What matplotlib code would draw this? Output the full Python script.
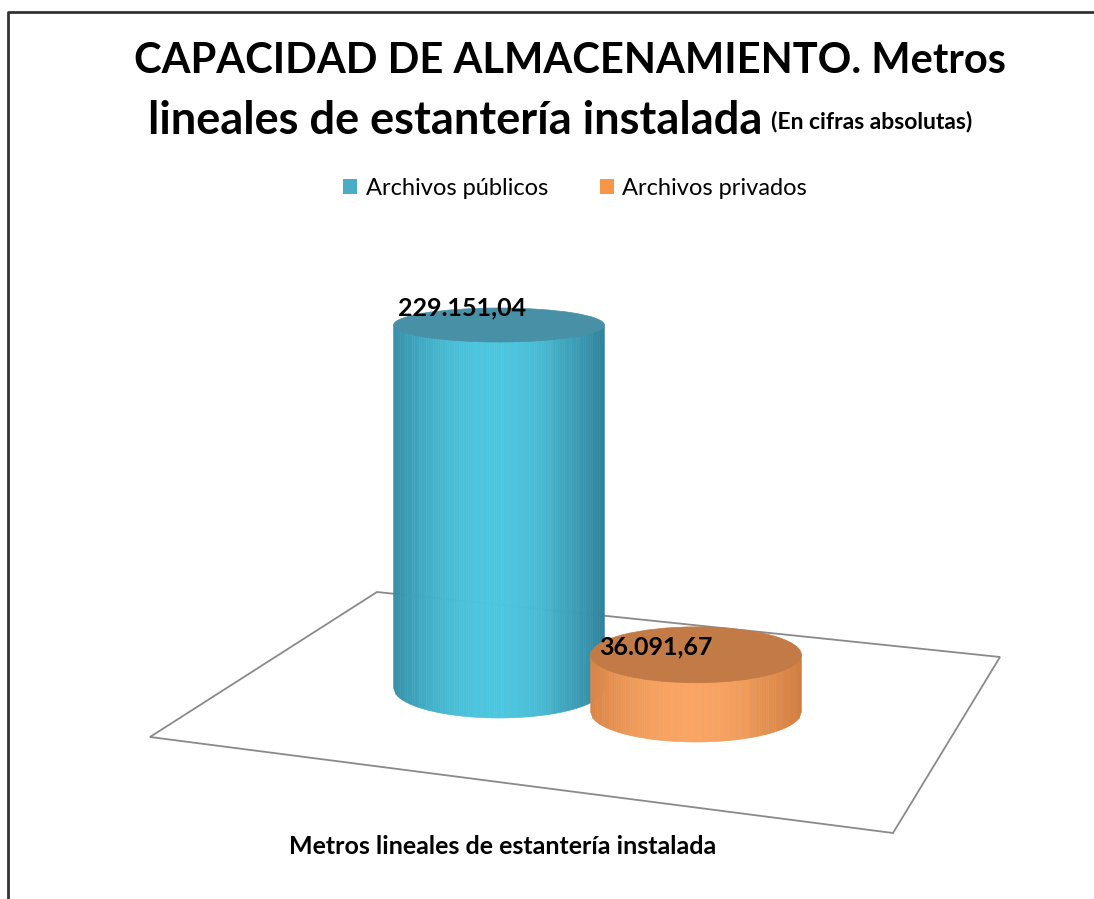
import numpy as np
import matplotlib
matplotlib.use("Agg")
import matplotlib.pyplot as plt
from matplotlib.patches import Polygon, Ellipse, Patch
from matplotlib.collections import PolyCollection
from matplotlib.colors import to_rgb
from matplotlib.transforms import ScaledTranslation

# ---- datos ----
series = ["Archivos públicos", "Archivos privados"]
values = [229151.04, 36091.67]
value_labels = ["229.151,04", "36.091,67"]
category = "Metros lineales de estantería instalada"

# ---- estilo ----
body_dark = ["#2F7F97", "#CF7B3E"]
body_light = ["#4CC6DF", "#F9A462"]
top_color = ["#4890A6", "#C27B47"]
legend_color = ["#4BACC6", "#F79646"]
depth_px = [0, 24]          # desplazamiento hacia delante (perspectiva)
label_off = [(3, 12), (6, 6)]

plt.rcParams["font.family"] = ["Lato", "DejaVu Sans"]

W, H, DPI = 1094, 899, 100
fig = plt.figure(figsize=(W / DPI, H / DPI), dpi=DPI)

# fondo: marco y suelo del gráfico
bg = fig.add_axes([0, 0, 1, 1])
bg.set_xlim(0, W)
bg.set_ylim(H, 0)
bg.axis("off")
bg.plot([8, 8, W + 5], [H + 5, 12, 12], color="#333333", lw=2, clip_on=False)
floor = Polygon([(377, 592), (1000, 657), (893, 833), (150, 737)], closed=True,
                facecolor="white", edgecolor="#8a8a8a", lw=1.3)
bg.add_patch(floor)

# títulos
fig.text(570 / W, 1 - 61 / H, "CAPACIDAD DE ALMACENAMIENTO. Metros", ha="center",
         va="center", fontsize=30, fontweight="bold")
t2 = fig.text(148 / W, 1 - 121 / H, "lineales de estantería instalada", ha="left",
              va="center", fontsize=32.5, fontweight="bold")
bg.annotate("(En cifras absolutas)", xy=(1, 0.22), xycoords=t2, xytext=(6, 0),
            textcoords="offset points", ha="left", va="bottom",
            fontsize=16.5, fontweight="bold")

# leyenda
handles = [Patch(facecolor=c, edgecolor="none") for c in legend_color]
fig.legend(handles, series, loc="center", bbox_to_anchor=(575 / W, 1 - 188 / H),
           ncol=2, frameon=False, fontsize=17, handlelength=0.6, handleheight=0.6,
           handletextpad=0.35, columnspacing=2.2)

# eje de las barras (cilindros)
ax_l, ax_r, ax_base, ymax = 302, 893, 688, 250000
ax_h_px = 396
ax = fig.add_axes([ax_l / W, (H - ax_base) / H, (ax_r - ax_l) / W, ax_h_px / H])
ax.set_xlim(-1, 2)
ax.set_ylim(0, ymax)
ax.axis("off")
ax.patch.set_alpha(0)

py = ax_h_px / ymax      # píxeles por unidad de valor
rx = 0.535


def ry_units(v):
    # semieje vertical de la elipse (perspectiva: más plana arriba)
    h = v * py
    return (30 - 13 * h / 363) / py


def cylinder(i, xc, v):
    tr = ax.transData + ScaledTranslation(0, -depth_px[i] / DPI, fig.dpi_scale_trans)
    dark = np.array(to_rgb(body_dark[i]))
    light = np.array(to_rgb(body_light[i]))
    n = 90
    u = np.linspace(-1, 1, n + 1)
    r0 = ry_units(0)
    polys, cols = [], []
    for a, b in zip(u[:-1], u[1:]):
        xa, xb = xc + rx * a, xc + rx * b
        ya, yb = -r0 * np.sqrt(1 - a * a), -r0 * np.sqrt(1 - b * b)
        polys.append([(xa, ya), (xb, yb), (xb, v), (xa, v)])
        m = (a + b) / 2
        t = np.cos(np.clip((m + 0.05) / 1.05, -1, 1) * np.pi / 2) ** 0.8
        if m > 0.5:
            t *= 0.9
        cols.append(dark + (light - dark) * t)
    pc = PolyCollection(polys, facecolors=cols, edgecolors=cols, linewidths=0.4,
                        transform=tr, clip_on=False)
    ax.add_collection(pc)
    top = Ellipse((xc, v), 2 * rx, 2 * ry_units(v), facecolor=top_color[i],
                  edgecolor=top_color[i], lw=0.5, transform=tr, clip_on=False)
    ax.add_patch(top)
    ax.annotate(value_labels[i], xy=(xc - rx, v), xycoords=tr,
                xytext=label_off[i], textcoords="offset points",
                ha="left", va="center", fontsize=18, fontweight="bold",
                annotation_clip=False)


for i, v in enumerate(values):
    cylinder(i, i, v)

# etiqueta de categoría
fig.text(503 / W, 1 - 847 / H, category, ha="center", va="center",
         fontsize=18, fontweight="bold")

fig.savefig("out.png", dpi=DPI, facecolor="white")
